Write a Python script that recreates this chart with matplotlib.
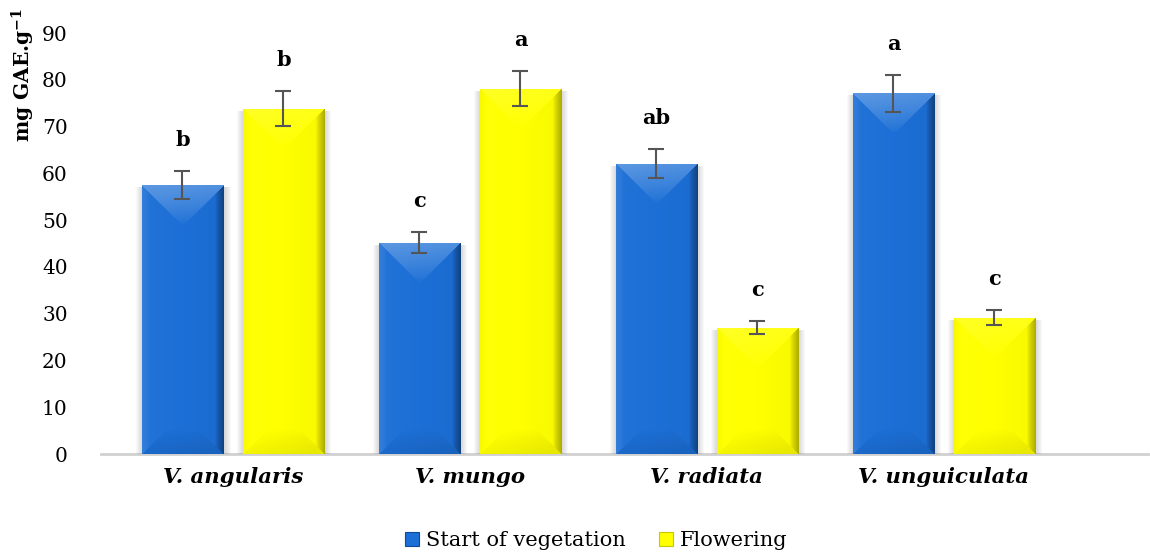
import numpy as np
import matplotlib.pyplot as plt
from matplotlib.patches import Patch, Rectangle
from matplotlib.colors import to_rgb

species = ["V. angularis", "V. mungo", "V. radiata", "V. unguiculata"]
start_veg = [57.5, 45.2, 62.1, 77.1]
start_err = [2.9, 2.2, 3.2, 3.9]
flowering = [73.8, 78.1, 27.0, 29.1]
flower_err = [3.7, 3.8, 1.4, 1.6]
start_letters = ["b", "c", "ab", "a"]
flower_letters = ["b", "a", "c", "c"]
series_names = ["Start of vegetation", "Flowering"]

BLUE = "#1c6fd6"
YELLOW = "#ffff00"

plt.rcParams['font.family'] = ['DejaVu Serif']
plt.rcParams['mathtext.fontset'] = 'dejavuserif'


def bevel_bar(ax, rect, base, strength, z=3):
    """Paint a bar with a 45 degree bevel and a soft drop shadow.
    strength: shading of the top, left, right and bottom faces."""
    x0, y0 = rect.get_x(), rect.get_y()
    w, h = rect.get_width(), rect.get_height()
    sx = ax.bbox.width / np.diff(ax.get_xlim())[0]
    sy = ax.bbox.height / np.diff(ax.get_ylim())[0]
    wp, hp = max(int(round(w * sx)), 2), max(int(round(h * sy)), 2)

    # soft grey shadow, mostly on the sides
    for k in range(1, 8):
        ax.add_patch(Rectangle((x0 - (k - 1) / sx, y0 - (k + 1) / sy),
                               w + (2 * k - 0.5) / sx, h + (k - 1) / sy,
                               color="#707070", alpha=0.045, lw=0, zorder=z - 1))

    U, V = np.meshgrid(np.arange(wp) + 0.5, np.arange(hp) + 0.5)
    d = np.stack([V, U, wp - U, hp - V])  # top, left, right, bottom
    face = d.argmin(0)
    dmin = d.min(0)
    bev = wp / 2.0
    strength = np.asarray(strength)
    reach = np.array([bev, 8.0, 9.0, bev * 0.6])
    f = np.clip(1 - dmin / reach[face], 0, 1) ** 0.8
    s = strength[face] * f + 0.06 * (0.5 - U / wp)

    c = np.array(to_rgb(base))[None, None, :]
    s3 = s[..., None]
    img = np.where(s3 > 0, c + (1 - c) * s3, c * (1 + s3))
    img = np.clip(img, 0, 1)
    im = ax.imshow(img, extent=(x0, x0 + w, y0, y0 + h), origin='upper',
                   aspect='auto', interpolation='bilinear', zorder=z)
    im.set_clip_path(rect)


fig = plt.figure(figsize=(11.5, 5.54), dpi=100)
ax = fig.add_axes([0.0878, 0.1805, 0.9104, 0.7599])

x = np.arange(len(species))
width = 0.342
offset = 0.213

ax.set_xlim(-0.557, 3.861)
ax.set_ylim(0, 90)
ax.set_autoscale_on(False)

bars_a = ax.bar(x - offset, start_veg, width, color=BLUE, zorder=2)
bars_b = ax.bar(x + offset, flowering, width, color=YELLOW, zorder=2)
for r in bars_a:
    bevel_bar(ax, r, BLUE, [0.26, 0.08, -0.38, -0.09])
for r in bars_b:
    bevel_bar(ax, r, YELLOW, [0.12, -0.06, -0.30, -0.07])

ax.errorbar(x - offset, start_veg, yerr=start_err, fmt='none', ecolor='#555555',
            elinewidth=1.5, capsize=6, capthick=1.5, zorder=6)
ax.errorbar(x + offset, flowering, yerr=flower_err, fmt='none', ecolor='#555555',
            elinewidth=1.5, capsize=6, capthick=1.5, zorder=6)

for xi, v, e, t in zip(x - offset, start_veg, start_err, start_letters):
    ax.annotate(t, (xi, v + e), xytext=(0, 18), textcoords='offset points',
                ha='center', va='baseline', fontsize=15, fontweight='bold')
for xi, v, e, t in zip(x + offset, flowering, flower_err, flower_letters):
    ax.annotate(t, (xi, v + e), xytext=(0, 18), textcoords='offset points',
                ha='center', va='baseline', fontsize=15, fontweight='bold')

ax.set_yticks(np.arange(0, 91, 10))
ax.set_xticks(x)
ax.set_xticklabels(species, fontsize=15.3, fontweight='bold', fontstyle='italic')
ax.tick_params(axis='y', length=0, pad=24, labelsize=14.5)
ax.tick_params(axis='x', length=0, pad=9)
for side in ['top', 'right', 'left']:
    ax.spines[side].set_visible(False)
ax.spines['bottom'].set_color('#d0d0d0')
ax.spines['bottom'].set_linewidth(2)
ax.spines['bottom'].set_zorder(1)

fig.text(0.02, 1 - 75 / 554, r"mg GAE.g$^{\mathbf{-1}}$", rotation=90,
         ha='center', va='center', fontsize=14.5, fontweight='bold')

handles = [Patch(facecolor=BLUE, edgecolor='#0d4a9a', lw=0.8),
           Patch(facecolor=YELLOW, edgecolor='#c8c800', lw=0.8)]
fig.legend(handles, series_names, loc='center', bbox_to_anchor=(0.5187, 1 - 541 / 554),
           ncol=2, frameon=False, fontsize=15, handlelength=0.65, handleheight=0.65,
           handletextpad=0.35, columnspacing=1.6)

fig.savefig("out.png", dpi=100)
